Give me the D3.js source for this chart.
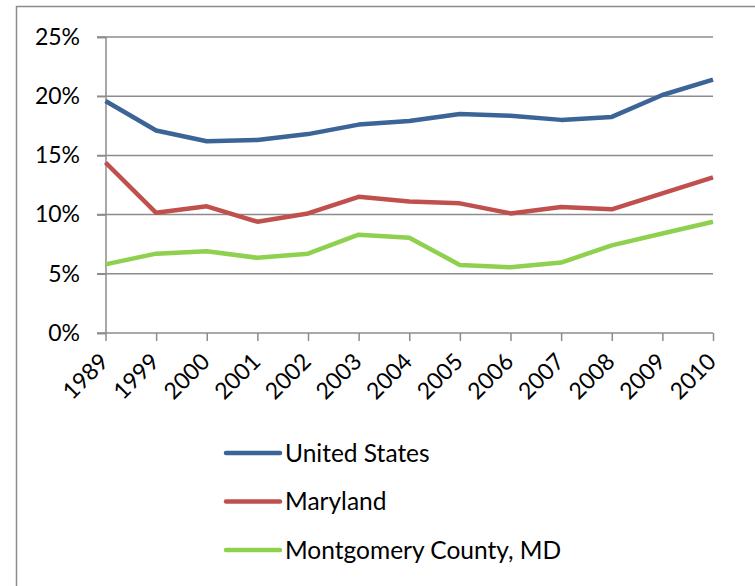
<!DOCTYPE html>
<html>
<head>
<meta charset="utf-8">
<script src="https://cdn.jsdelivr.net/npm/d3@7"></script>
<style>
  body { margin: 0; background: #fff; }
  svg { display: block; font-family: Lato, "Open Sans", sans-serif; }
</style>
</head>
<body>
<div class="chart"></div>
<script>
// === Data ===
const years = ["1989","1999","2000","2001","2002","2003","2004","2005","2006","2007","2008","2009","2010"];
const unitedStates = [19.6, 17.1, 16.2, 16.3, 16.8, 17.6, 17.9, 18.5, 18.35, 18.0, 18.25, 20.1, 21.4];
const maryland     = [14.4, 10.15, 10.7, 9.4, 10.1, 11.5, 11.1, 10.95, 10.1, 10.65, 10.45, 11.8, 13.15];
const montgomery   = [5.8, 6.7, 6.9, 6.35, 6.7, 8.3, 8.05, 5.75, 5.55, 5.95, 7.4, 8.4, 9.4];
const yTicks = [0, 5, 10, 15, 20, 25];

const series = [
  {name: "United States", values: unitedStates, color: "#3B6497"},
  {name: "Maryland", values: maryland, color: "#C0504D"},
  {name: "Montgomery County, MD", values: montgomery, color: "#8FD14F"}
];

// === SVG ===
const W = 755, H = 586;
const svg = d3.select(".chart").append("svg")
    .attr("width", W)
    .attr("height", H);

// outer frame
svg.append("rect")
    .attr("x", 16.5).attr("y", 6.5)
    .attr("width", 800).attr("height", 700)
    .attr("fill", "none")
    .attr("stroke", "#8c8c8c")
    .attr("stroke-width", 1.5);

// === Scales ===
const x = d3.scalePoint().domain(years).range([105.5, 713]);
const y = d3.scaleLinear().domain([0, 25]).range([333, 37]);

// gridlines
svg.append("g")
    .selectAll("line")
    .data(yTicks.filter(d => d > 0))
    .join("line")
    .attr("x1", 97).attr("x2", 713)
    .attr("y1", d => y(d)).attr("y2", d => y(d))
    .attr("stroke", "#8c8c8c")
    .attr("stroke-width", 1.5);

// y axis
const yAxis = svg.append("g")
    .attr("transform", "translate(105.5,0)")
    .call(d3.axisLeft(y).tickValues(yTicks).tickSize(8.5).tickPadding(17).tickFormat(d => d + "%"));
yAxis.select(".domain").attr("stroke", "#8c8c8c").attr("stroke-width", 1.5);
yAxis.selectAll(".tick line").attr("stroke", "#8c8c8c").attr("stroke-width", 1.5);
yAxis.selectAll("text").attr("font-size", 23).attr("fill", "#000").attr("font-family", "Lato, 'Open Sans', sans-serif");

// x axis
const xAxis = svg.append("g")
    .attr("transform", "translate(0,333)")
    .call(d3.axisBottom(x).tickSize(8).tickSizeOuter(0));
xAxis.select(".domain").attr("stroke", "#8c8c8c").attr("stroke-width", 1.5).attr("d", "M97,0H713");
xAxis.selectAll(".tick line").attr("stroke", "#8c8c8c").attr("stroke-width", 1.5);
xAxis.selectAll("text")
    .attr("font-size", 23)
    .attr("fill", "#000")
    .attr("font-family", "Lato, 'Open Sans', sans-serif")
    .attr("text-anchor", "end")
    .attr("dy", null)
    .attr("y", 0)
    .attr("transform", "translate(4,30) rotate(-45)");

// === Lines ===
const line = d3.line()
    .x((d, i) => x(years[i]))
    .y(d => y(d));

svg.append("g")
    .selectAll("path")
    .data(series)
    .join("path")
    .attr("d", d => line(d.values))
    .attr("fill", "none")
    .attr("stroke", d => d.color)
    .attr("stroke-width", 4.5)
    .attr("stroke-linejoin", "round");

// === Legend ===
const legend = svg.append("g")
    .selectAll("g")
    .data(series)
    .join("g")
    .attr("transform", (d, i) => `translate(225,${453 + i * 48.5})`);

legend.append("line")
    .attr("x1", 1).attr("x2", 55)
    .attr("stroke", d => d.color)
    .attr("stroke-width", 4.5)
    .attr("stroke-linecap", "round");

legend.append("text")
    .attr("x", 60)
    .attr("dy", "0.35em")
    .attr("font-size", 24.5)
    .text(d => d.name);
</script>
</body>
</html>
